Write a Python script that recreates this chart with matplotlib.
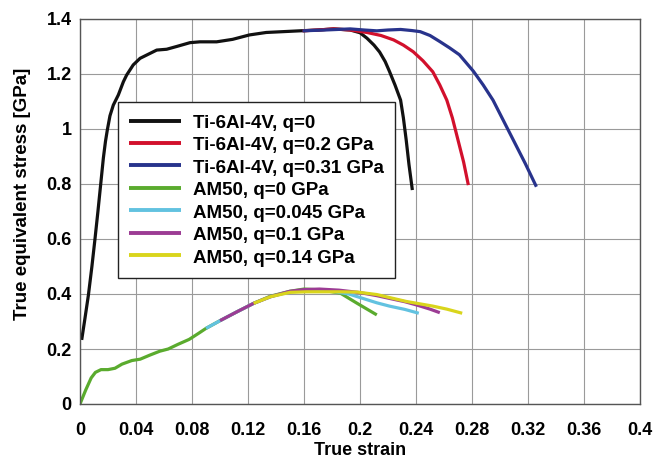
import matplotlib
matplotlib.use("Agg")
import matplotlib.pyplot as plt

plt.rcParams['font.family'] = ['Liberation Sans', 'DejaVu Sans']
plt.rcParams['font.weight'] = 'bold'

# Ti-6Al-4V curves
ti_q0_strain = [0.0012, 0.0035, 0.006, 0.0085, 0.0107, 0.0128, 0.0148, 0.0167, 0.0182, 0.0195,
                0.0214, 0.0238, 0.0274, 0.031, 0.0333, 0.038, 0.0429, 0.0548, 0.0619,
                0.069, 0.0786, 0.0857, 0.0976, 0.109, 0.121, 0.133, 0.145, 0.157, 0.17,
                0.181, 0.193, 0.2, 0.205, 0.21, 0.214, 0.218, 0.221, 0.225, 0.229, 0.231,
                0.233, 0.235, 0.2374]
ti_q0_stress = [0.233, 0.31, 0.396, 0.5, 0.6, 0.7, 0.8, 0.895, 0.955, 0.996,
                1.048, 1.087, 1.124, 1.172, 1.196, 1.233, 1.257, 1.287, 1.29,
                1.30, 1.314, 1.317, 1.317, 1.326, 1.342, 1.351, 1.354, 1.357, 1.36,
                1.364, 1.36, 1.35, 1.33, 1.305, 1.28, 1.245, 1.21, 1.16, 1.105, 1.04,
                0.96, 0.87, 0.778]

ti_q02_strain = [0.159, 0.17, 0.181, 0.193, 0.205, 0.215, 0.224, 0.231, 0.238, 0.245, 0.252,
                 0.257, 0.262, 0.266, 0.270, 0.274, 0.2774]
ti_q02_stress = [1.357, 1.36, 1.364, 1.36, 1.351, 1.34, 1.324, 1.305, 1.281, 1.248, 1.208,
                 1.16, 1.105, 1.04, 0.96, 0.88, 0.796]

ti_q031_strain = [0.159, 0.175, 0.193, 0.203, 0.212, 0.22, 0.229, 0.237, 0.243, 0.25, 0.257,
                  0.264, 0.271, 0.276, 0.281, 0.288, 0.295, 0.302, 0.3095, 0.318, 0.326]
ti_q031_stress = [1.357, 1.36, 1.364, 1.36, 1.357, 1.36, 1.362, 1.358, 1.354, 1.34, 1.318,
                  1.295, 1.27, 1.24, 1.21, 1.16, 1.105, 1.035, 0.96, 0.875, 0.79]

# AM50 curves
am_q0_strain = [0, 0.004, 0.008, 0.011, 0.015, 0.02, 0.025, 0.03, 0.037, 0.043, 0.05, 0.057,
                0.063, 0.07, 0.078, 0.085, 0.09, 0.1, 0.112, 0.124, 0.136, 0.15, 0.16, 0.172,
                0.186, 0.198, 0.205, 0.212]
am_q0_stress = [0, 0.05, 0.095, 0.115, 0.125, 0.125, 0.13, 0.145, 0.158, 0.163, 0.178, 0.192,
                0.2, 0.217, 0.235, 0.258, 0.275, 0.303, 0.335, 0.366, 0.392, 0.41, 0.418, 0.415,
                0.403, 0.366, 0.345, 0.324]

am_q0045_strain = [0.09, 0.1, 0.112, 0.124, 0.136, 0.15, 0.165, 0.18, 0.192, 0.202, 0.212,
                   0.221, 0.232, 0.242]
am_q0045_stress = [0.275, 0.303, 0.335, 0.366, 0.39, 0.408, 0.412, 0.41, 0.4, 0.384, 0.368,
                   0.356, 0.344, 0.33]

am_q01_strain = [0.1, 0.112, 0.124, 0.136, 0.15, 0.16, 0.171, 0.185, 0.2, 0.212, 0.221, 0.232,
                 0.2405, 0.25, 0.257]
am_q01_stress = [0.303, 0.335, 0.366, 0.39, 0.41, 0.416, 0.418, 0.414, 0.405, 0.394, 0.384,
                 0.372, 0.36, 0.345, 0.332]

am_q014_strain = [0.124, 0.136, 0.15, 0.162, 0.174, 0.186, 0.198, 0.212, 0.222, 0.233, 0.243,
                  0.252, 0.262, 0.273]
am_q014_stress = [0.366, 0.39, 0.406, 0.408, 0.408, 0.408, 0.407, 0.398, 0.386, 0.373, 0.364,
                  0.356, 0.345, 0.33]

labels = ['Ti-6Al-4V, q=0', 'Ti-6Al-4V, q=0.2 GPa', 'Ti-6Al-4V, q=0.31 GPa',
          'AM50, q=0 GPa', 'AM50, q=0.045 GPa', 'AM50, q=0.1 GPa', 'AM50, q=0.14 GPa']
colors = ['#111111', '#d2102c', '#28338c', '#5aab2e', '#62c2e0', '#9c3c94', '#d9d51c']

x_ticks = [0, 0.04, 0.08, 0.12, 0.16, 0.2, 0.24, 0.28, 0.32, 0.36, 0.4]
x_tick_labels = ['0', '0.04', '0.08', '0.12', '0.16', '0.2', '0.24', '0.28', '0.32', '0.36', '0.4']
y_ticks = [0, 0.2, 0.4, 0.6, 0.8, 1.0, 1.2, 1.4]
y_tick_labels = ['0', '0.2', '0.4', '0.6', '0.8', '1', '1.2', '1.4']

series = [
    (ti_q0_strain, ti_q0_stress),
    (ti_q02_strain, ti_q02_stress),
    (ti_q031_strain, ti_q031_stress),
    (am_q0_strain, am_q0_stress),
    (am_q0045_strain, am_q0045_stress),
    (am_q01_strain, am_q01_stress),
    (am_q014_strain, am_q014_stress),
]

fig = plt.figure(figsize=(6.54, 4.58), dpi=100)
ax = fig.add_axes([80 / 654, 54 / 458, 560 / 654, 385 / 458])

for (xs, ys), lab, col in zip(series, labels, colors):
    ax.plot(xs, ys, color=col, linewidth=2.3, label=lab,
            solid_capstyle='butt', solid_joinstyle='round')

ax.set_xlim(0, 0.4)
ax.set_ylim(0, 1.4)
ax.set_xticks(x_ticks)
ax.set_xticklabels(x_tick_labels)
ax.set_yticks(y_ticks)
ax.set_yticklabels(y_tick_labels)
ax.tick_params(length=0, labelsize=13)
ax.tick_params(axis='x', pad=13)
ax.tick_params(axis='y', pad=6)
for lbl in ax.get_xticklabels() + ax.get_yticklabels():
    lbl.set_fontweight('bold')
ax.grid(True, color='#9a9a9a', linewidth=0.8)
ax.set_axisbelow(True)
for sp in ax.spines.values():
    sp.set_color('#555555')
    sp.set_linewidth(1.0)

ax.set_xlabel('True strain', fontsize=13, fontweight='bold', labelpad=2)
ax.set_ylabel('True equivalent stress [GPa]', fontsize=13.5, fontweight='bold')
ax.yaxis.set_label_coords(-0.088, 0.545)

leg = ax.legend(loc='upper left', bbox_to_anchor=(0.068, 0.785),
                prop={'weight': 'bold', 'size': 13.5}, frameon=True, fancybox=False,
                edgecolor='#222222', framealpha=1, handlelength=2.77, handletextpad=0.64,
                handleheight=1.04, labelspacing=0.18, borderpad=0.6, borderaxespad=0)
leg.get_frame().set_linewidth(1.0)
for line in leg.get_lines():
    line.set_linewidth(2.8)

fig.savefig('out.png', dpi=100, facecolor='white')
